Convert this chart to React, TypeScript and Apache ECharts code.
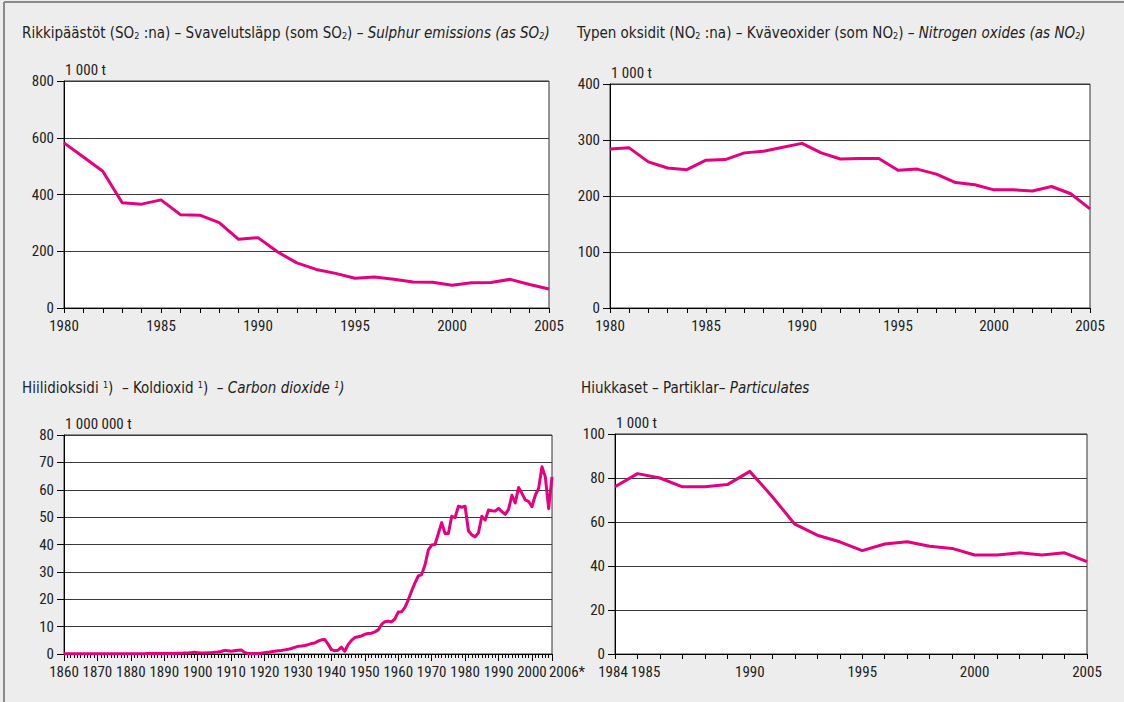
import React, { useEffect, useRef } from 'react';
import * as echarts from 'echarts';

// ---------- data ----------
const so2Years = [1980, 1981, 1982, 1983, 1984, 1985, 1986, 1987, 1988, 1989, 1990, 1991, 1992, 1993, 1994, 1995, 1996, 1997, 1998, 1999, 2000, 2001, 2002, 2003, 2004, 2005];
const so2Values = [582, 532, 482, 371, 366, 381, 329, 327, 301, 242, 248, 198, 159, 136, 122, 105, 109, 101, 92, 91, 80, 89, 90, 101, 83, 67];

const noxYears = [1980, 1981, 1982, 1983, 1984, 1985, 1986, 1987, 1988, 1989, 1990, 1991, 1992, 1993, 1994, 1995, 1996, 1997, 1998, 1999, 2000, 2001, 2002, 2003, 2004, 2005];
const noxValues = [284, 286, 261, 250, 247, 264, 265, 277, 280, 287, 294, 277, 266, 267, 267, 246, 248, 239, 224, 220, 211, 211, 209, 217, 204, 177];

const co2FirstYear = 1860;
const co2Values = [
  // 1860-1869
  0.1, 0.1, 0.1, 0.1, 0.1, 0.1, 0.1, 0.1, 0.1, 0.1,
  // 1870-1879
  0.1, 0.1, 0.1, 0.1, 0.1, 0.1, 0.1, 0.1, 0.1, 0.1,
  // 1880-1889
  0.1, 0.1, 0.1, 0.1, 0.1, 0.15, 0.15, 0.15, 0.15, 0.2,
  // 1890-1899
  0.2, 0.2, 0.2, 0.2, 0.25, 0.3, 0.35, 0.4, 0.5, 0.6,
  // 1900-1909
  0.5, 0.4, 0.4, 0.5, 0.5, 0.6, 0.7, 0.9, 1.3, 1.2,
  // 1910-1919
  1.0, 1.2, 1.4, 1.5, 0.6, 0.2, 0.2, 0.2, 0.2, 0.3,
  // 1920-1929
  0.5, 0.6, 0.8, 1.0, 1.2, 1.3, 1.5, 1.7, 2.0, 2.4,
  // 1930-1939
  2.8, 2.9, 3.1, 3.4, 3.8, 4.0, 4.7, 5.2, 5.3, 3.6,
  // 1940-1949
  1.6, 1.2, 1.4, 2.5, 1.0, 3.4, 5.0, 6.0, 6.3, 6.6,
  // 1950-1959
  7.2, 7.5, 7.6, 8.1, 8.8, 10.8, 11.8, 12.0, 11.7, 12.8,
  // 1960-1969
  15.3, 15.4, 17.0, 19.8, 23.0, 26.0, 28.5, 29.0, 32.5, 38.0,
  // 1970-1979
  39.8, 40.0, 44.0, 48.0, 44.0, 44.0, 50.3, 49.8, 54.0, 53.6,
  // 1980-1989
  54.0, 45.0, 43.5, 42.8, 44.3, 50.3, 48.9, 52.6, 52.3, 52.2,
  // 1990-1999
  53.2, 52.0, 51.0, 52.8, 58.0, 55.2, 60.8, 58.7, 56.3, 55.7,
  // 2000-2006
  53.8, 58.0, 60.5, 68.4, 64.7, 53.1, 64.7,
];

const pmYears = [1984, 1985, 1986, 1987, 1988, 1989, 1990, 1991, 1992, 1993, 1994, 1995, 1996, 1997, 1998, 1999, 2000, 2001, 2002, 2003, 2004, 2005];
const pmValues = [76, 82, 80, 76, 76, 77, 83, 71.5, 59, 54, 51, 47, 50, 51, 49, 48, 45, 45, 46, 45, 46, 42];

const so2LabelYears = [1980, 1985, 1990, 1995, 2000, 2005];
const noxLabelYears = [1980, 1985, 1990, 1995, 2000, 2005];
const co2LabelYears = [1860, 1870, 1880, 1890, 1900, 1910, 1920, 1930, 1940, 1950, 1960, 1970, 1980, 1990, 2000];
const co2LastLabel = '2006*';
const pmLabelYears = [1985, 1990, 1995, 2000, 2005];
const pmFirstLabelYear = 1984;

const unitThousand = '1 000 t';
const unitMillion = '1 000 000 t';

// ---------- styles ----------
const FONT = '"DejaVu Sans Condensed", "Liberation Sans Narrow", sans-serif';
const TICK_FONT = '"Roboto Condensed", "Liberation Sans Narrow", "DejaVu Sans Condensed", sans-serif';
const TEXT = '#222';
const LINE = '#e6007e';
const GRIDLINE = '#3a3a3a';
const AXIS = '#000';
const BG = '#ededed';
const TICK_FS = 15;
const TITLE_FS = 15;

const titleRich = {
  n: { fontFamily: FONT, fontSize: TITLE_FS, color: TEXT },
  i: { fontFamily: FONT, fontSize: TITLE_FS, fontStyle: 'italic', color: TEXT },
  s: { fontFamily: FONT, fontSize: 9, color: TEXT, verticalAlign: 'bottom' },
  is: { fontFamily: FONT, fontSize: 9, fontStyle: 'italic', color: TEXT, verticalAlign: 'bottom' },
  u: { fontFamily: FONT, fontSize: 9, color: TEXT, verticalAlign: 'top' },
  iu: { fontFamily: FONT, fontSize: 9, fontStyle: 'italic', color: TEXT, verticalAlign: 'top' },
};

function titleText(x: number, y: number, text: string) {
  return {
    type: 'text', x, y, silent: true,
    style: { text, rich: titleRich, fontFamily: FONT, fontSize: TITLE_FS, fill: TEXT, verticalAlign: 'middle', align: 'left' },
  };
}

const labelStyle = { fontFamily: TICK_FONT, fontSize: TICK_FS, color: TEXT };

function tick(length: number) {
  return { show: true, inside: false, length, lineStyle: { color: AXIS, width: 1 } };
}
const noTick = { show: false };

function yAxisCfg(gridIndex: number, max: number, interval: number, unit: string) {
  return {
    type: 'value', gridIndex, position: 'left', min: 0, max, interval,
    name: unit, nameLocation: 'end', nameGap: 4,
    nameTextStyle: { ...labelStyle, align: 'left', verticalAlign: 'bottom', padding: [0, 0, 0, 1] },
    axisLine: { show: true, onZero: false, lineStyle: { color: AXIS, width: 1 } },
    axisTick: tick(7),
    axisLabel: { ...labelStyle, margin: 10 },
    splitLine: { show: true, lineStyle: { color: GRIDLINE, width: 1 } },
  };
}

function xAxisCfg(gridIndex: number, min: number, max: number, interval: number, showLine: boolean, label: (y: number) => string, rich: any, axisTick: any) {
  return {
    type: 'value', gridIndex, position: 'bottom', min, max, interval,
    axisLine: { show: showLine, onZero: false, lineStyle: { color: AXIS, width: 1 } },
    axisTick,
    axisLabel: {
      ...labelStyle, margin: 10, showMinLabel: null, showMaxLabel: null, hideOverlap: false, rich,
      formatter: (v: number) => label(Math.round(v)),
    },
    splitLine: { show: false },
  };
}

function pairs(years: number[], values: number[]) {
  return years.map((y, i) => [y, values[i]]);
}

const co2Data = co2Values.map((v, i) => [co2FirstYear + i, v]);

function lineSeries(idx: number, data: number[][]) {
  return {
    type: 'line', xAxisIndex: idx, yAxisIndex: idx, data, showSymbol: false, symbol: 'none', clip: true, z: 3,
    lineStyle: { color: LINE, width: 3, join: 'round' }, itemStyle: { color: LINE },
  };
}

const gridBase = { show: true, backgroundColor: '#fff', borderColor: '#333', borderWidth: 1, containLabel: false };

export default function App() {
  const ref = useRef<HTMLDivElement>(null);

  useEffect(() => {
    if (!ref.current) return;
    const chart = echarts.init(ref.current, undefined, { renderer: 'svg' });

    const co2Rich = { r: { ...labelStyle, padding: [0, 0, 0, 30] } };
    const pmRich = { p: { ...labelStyle, padding: [0, 0, 0, 16] } };
    const pmFirstRich = { f: { ...labelStyle, padding: [0, 4, 0, 0] } };

    const option: any = {
      animation: false,
      backgroundColor: BG,
      textStyle: { fontFamily: FONT },
      grid: [
        { ...gridBase, left: 64, top: 81, width: 485, height: 227 },
        { ...gridBase, left: 610, top: 84, width: 480, height: 224 },
        { ...gridBase, left: 64, top: 435, width: 488, height: 219 },
        { ...gridBase, left: 615, top: 434, width: 472, height: 220 },
      ],
      xAxis: [
        xAxisCfg(0, 1980, 2005, 1, true, (y) => (so2LabelYears.includes(y) ? String(y) : ''), undefined, tick(5)),
        xAxisCfg(1, 1980, 2005, 1, true, (y) => (noxLabelYears.includes(y) ? String(y) : ''), undefined, tick(5)),
        xAxisCfg(2, 1860, 2006, 1, true, (y) => (co2LabelYears.includes(y) ? String(y) : ''), undefined, tick(4)),
        xAxisCfg(3, 1984, 2005, 1, true, (y) => (pmLabelYears.includes(y) ? (y === 1985 ? '{p|1985}' : String(y)) : ''), pmRich, tick(5)),
        // decade ticks and final-year label for the carbon dioxide chart
        xAxisCfg(2, 1860, 2006, 10, false, (y) => (y === 2006 ? '{r|' + co2LastLabel + '}' : ''), co2Rich, tick(7)),
        // first-year label for the particulates chart
        xAxisCfg(3, 1984, 2005, 21, false, (y) => (y === pmFirstLabelYear ? '{f|' + y + '}' : ''), pmFirstRich, noTick),
      ],
      yAxis: [
        yAxisCfg(0, 800, 200, unitThousand),
        yAxisCfg(1, 400, 100, unitThousand),
        yAxisCfg(2, 80, 10, unitMillion),
        yAxisCfg(3, 100, 20, unitThousand),
      ],
      series: [
        lineSeries(0, pairs(so2Years, so2Values)),
        lineSeries(1, pairs(noxYears, noxValues)),
        lineSeries(2, co2Data),
        lineSeries(3, pairs(pmYears, pmValues)),
      ],
      graphic: [
        { type: 'line', silent: true, shape: { x1: 4, y1: 2, x2: 1124, y2: 2 }, style: { stroke: '#8a8a8a', lineWidth: 2 } },
        { type: 'line', silent: true, shape: { x1: 4, y1: 2, x2: 4, y2: 702 }, style: { stroke: '#8a8a8a', lineWidth: 2 } },
        titleText(22, 33, '{n|Rikkipäästöt (SO}{s|2}{n| :na) – Svavelutsläpp (som SO}{s|2}{n|) – }{i|Sulphur emissions (as SO}{is|2}{i|)}'),
        titleText(577, 33, '{n|Typen oksidit (NO}{s|2}{n| :na) – Kväveoxider (som NO}{s|2}{n|) – }{i|Nitrogen oxides (as NO}{is|2}{i|)}'),
        titleText(22, 388, '{n|Hiilidioksidi }{u|1}{n|)  – Koldioxid }{u|1}{n|)  – }{i|Carbon dioxide }{iu|1}{i|)}'),
        titleText(581, 388, '{n|Hiukkaset – Partiklar– }{i|Particulates}'),
      ],
    };

    chart.setOption(option);
    return () => chart.dispose();
  }, []);

  return <div ref={ref} style={{ position: 'fixed', left: 0, top: 0, width: 1124, height: 702 }} />;
}
